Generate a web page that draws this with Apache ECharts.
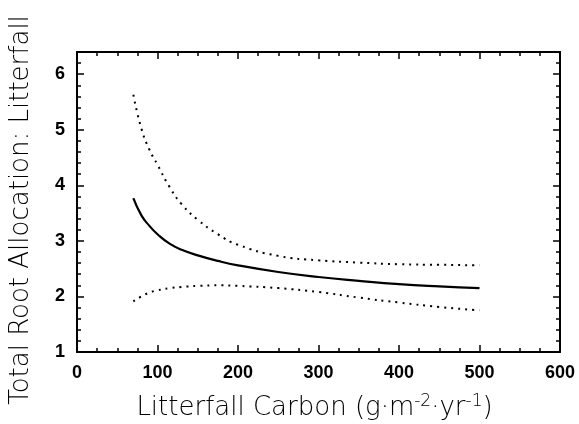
<!DOCTYPE html>
<html>
<head>
<meta charset="utf-8">
<script src="https://cdn.jsdelivr.net/npm/echarts@6/dist/echarts.min.js"></script>
<style>html,body{margin:0;padding:0;background:#fff}#c{width:579px;height:424px}</style>
</head>
<body>
<div id="c"></div>
<script>
const litterfall = [70, 80, 90, 100, 115, 130, 150, 175, 200, 250, 300, 350, 400, 450, 500];
const fitted = [3.77, 3.46, 3.27, 3.12, 2.95, 2.84, 2.74, 2.64, 2.56, 2.44, 2.35, 2.28, 2.22, 2.18, 2.15];
const upperCI = [5.63, 5.02, 4.64, 4.37, 3.97, 3.66, 3.38, 3.12, 2.93, 2.73, 2.65, 2.61, 2.58, 2.57, 2.56];
const lowerCI = [1.91, 2.00, 2.07, 2.11, 2.15, 2.17, 2.19, 2.20, 2.19, 2.15, 2.08, 1.98, 1.89, 1.81, 1.75];
const xTicks = [0, 100, 200, 300, 400, 500, 600];
const yTicks = [1, 2, 3, 4, 5, 6];

const pairs = (ys) => litterfall.map((x, i) => [x, ys[i]]);
const chart = echarts.init(document.getElementById('c'));
const lab = {color: '#000', fontFamily: 'Liberation Sans', fontWeight: 'bold', fontSize: 18};
const axLine = {show: true, onZero: false, lineStyle: {color: '#000', width: 2}};
const tick = {show: true, inside: true, length: 7, lineStyle: {color: '#000', width: 1.5}};
const mtickX = {show: true, splitNumber: 4, length: 4, lineStyle: {color: '#000', width: 1.5}};
const mtickY = {show: true, splitNumber: 5, length: 4, lineStyle: {color: '#000', width: 1.5}};
const titleFont = {color: '#000', fontFamily: 'DejaVu Sans', fontWeight: 300, fontSize: 26};

chart.setOption({
  animation: false,
  backgroundColor: '#fff',
  grid: {left: 77, right: 19, top: 52, bottom: 72, containLabel: false, outerBoundsMode: 'none'},
  xAxis: [
    {type: 'value', min: xTicks[0], max: xTicks[xTicks.length - 1], interval: 100, position: 'bottom',
     axisLine: axLine, axisTick: tick, minorTick: mtickX, splitLine: {show: false},
     axisLabel: Object.assign({margin: 12}, lab),
     name: '{a|Litterfall Carbon (g·m}{s|-2}{a|·yr}{s|-1}{a|)}', nameLocation: 'middle', nameGap: 41,
     nameTextStyle: {padding: [0, 8, 0, 0], rich: {a: Object.assign({lineHeight: 30}, titleFont), s: Object.assign({}, titleFont, {fontSize: 17, verticalAlign: 'top', lineHeight: 30, padding: [0, 0, 10, 0]})}}},
    {type: 'value', min: 0, max: 600, interval: 100, position: 'top',
     axisLine: axLine, axisTick: tick, minorTick: mtickX, splitLine: {show: false}, axisLabel: {show: false}}
  ],
  yAxis: [
    {type: 'value', min: yTicks[0], max: 6.4, interval: 1, position: 'left',
     axisLine: axLine, axisTick: tick, minorTick: mtickY, splitLine: {show: false},
     axisLabel: Object.assign({margin: 12, showMaxLabel: false,
       formatter: (v) => (yTicks.indexOf(v) >= 0 ? String(v) : '')}, lab),
     name: 'Total Root Allocation: Litterfall', nameLocation: 'middle', nameGap: 43, nameRotate: 90,
     nameTextStyle: Object.assign({padding: [0, 16, 0, 0]}, titleFont)},
    {type: 'value', min: 1, max: 6.4, interval: 1, position: 'right',
     axisLine: axLine, axisTick: tick, minorTick: mtickY, splitLine: {show: false}, axisLabel: {show: false}}
  ],
  series: [
    {type: 'line', data: pairs(fitted), smooth: true, symbol: 'none',
     lineStyle: {color: '#000', width: 2.2}},
    {type: 'line', data: pairs(upperCI), smooth: true, symbol: 'none',
     lineStyle: {color: '#000', width: 2, type: [2, 5]}},
    {type: 'line', data: pairs(lowerCI), smooth: true, symbol: 'none',
     lineStyle: {color: '#000', width: 2, type: [2, 5]}}
  ]
});
</script>
</body>
</html>
